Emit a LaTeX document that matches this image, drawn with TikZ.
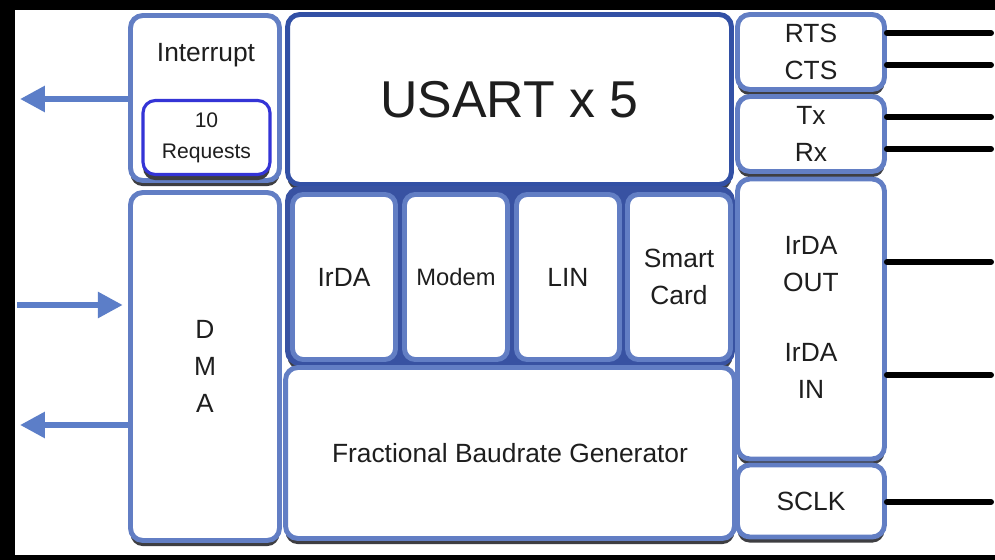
\documentclass[tikz,border=0pt]{standalone}
\usepackage{fontspec}
\setmainfont{Liberation Sans}
\usetikzlibrary{positioning,arrows.meta,shadows}
\definecolor{blkblue}{RGB}{98,126,196}
\definecolor{usartblue}{RGB}{50,80,165}
\definecolor{grpblue}{RGB}{56,82,162}
\definecolor{reqblue}{RGB}{52,52,214}
\definecolor{arrowblue}{RGB}{92,126,200}
\definecolor{shadowgray}{RGB}{62,62,66}
\definecolor{txtgray}{RGB}{30,30,30}
\tikzset{
	blkbase/.style={draw=blkblue, line width=2.8pt, rounded corners=7pt, fill=white, inner sep=0pt,
		text=txtgray, align=center, font=\fontsize{15}{21}\selectfont},
	blk/.style={blkbase, drop shadow={shadow xshift=0pt, shadow yshift=-3.2pt, fill=shadowgray, opacity=1}},
	subblk/.style={blkbase, rounded corners=6pt},
	lbl/.style={text=txtgray, align=center, font=\fontsize{15}{21}\selectfont},
	busarrow/.style={draw=arrowblue, line width=3.4pt, -{Triangle[length=0.5cm, width=0.5cm]}},
	pin/.style={line width=3.4pt, line cap=round},
}
\begin{document}
\begin{tikzpicture}[x=0.02cm, y=-0.02cm]
	\useasboundingbox (0,0) rectangle (995,560);
	\fill[black] (0,0) rectangle (995,560);
	\fill[white] (15,10) rectangle (995,555);

	\node[blk, minimum width=2.98cm, minimum height=3.3cm] (intr) at (205,98) {};
	\node[lbl] (intrtxt) at (206,55) {Interrupt};
	\node[blk, draw=reqblue, line width=1.8pt, minimum width=2.54cm, minimum height=1.48cm,
		font=\fontsize{12}{17.5}\selectfont] (req) at (206.5,137.5) {10\\Requests};
	\node[blk, minimum width=2.98cm, minimum height=6.96cm] (dma) at (205,366.5) {D\\M\\A};

	\node[blk, draw=usartblue, minimum width=8.88cm, minimum height=3.4cm,
		font=\fontsize{29.5}{34}\selectfont] (usart) at (509.5,99.5) {USART x 5};
	\node[blk, draw=grpblue, fill=grpblue, minimum width=8.9cm, minimum height=3.5cm] (grp) at (510,276) {};
	\node[subblk, minimum width=2.06cm, minimum height=3.3cm] (irda) at (344,277) {IrDA};
	\node[subblk, minimum width=2.06cm, minimum height=3.3cm, font=\fontsize{13.5}{21}\selectfont] (modem) at (456,277) {Modem};
	\node[subblk, minimum width=2.06cm, minimum height=3.3cm] (lin) at (568,277) {LIN};
	\node[subblk, minimum width=2.06cm, minimum height=3.3cm] (smart) at (679,277) {Smart\\Card};
	\node[blk, minimum width=8.98cm, minimum height=3.42cm] (fbg) at (510,453) {Fractional Baudrate Generator};

	\node[blk, minimum width=2.94cm, minimum height=1.5cm] (rts) at (811,52) {RTS\\CTS};
	\node[blk, minimum width=2.94cm, minimum height=1.5cm] (txrx) at (811,134) {Tx\\Rx};
	\node[blk, minimum width=2.94cm, minimum height=5.6cm] (irdaio) at (811,319) {};
	\node[lbl] (irdaout) at (811,264) {IrDA\\OUT};
	\node[lbl] (irdain) at (811,371) {IrDA\\IN};
	\node[blk, minimum width=2.94cm, minimum height=1.44cm] (sclk) at (811,501) {SCLK};

	\coordinate (intout) at (20,99);
	\coordinate (dmain) at (17,305);
	\coordinate (dmaout) at (20,425);
	\draw[busarrow] (intout -| intr.west) -- (intout);
	\draw[busarrow, shorten >=3pt] (dmain) -- (dmain -| dma.west);
	\draw[busarrow] (dmaout -| dma.west) -- (dmaout);

	\coordinate (prts) at (991,33);
	\coordinate (pcts) at (991,65);
	\coordinate (ptx) at (991,117);
	\coordinate (prx) at (991,149);
	\coordinate (pirout) at (991,262);
	\coordinate (pirin) at (991,375);
	\coordinate (pclk) at (991,502);
	\draw[pin] (prts -| rts.east) -- (prts);
	\draw[pin] (pcts -| rts.east) -- (pcts);
	\draw[pin] (ptx -| txrx.east) -- (ptx);
	\draw[pin] (prx -| txrx.east) -- (prx);
	\draw[pin] (pirout -| irdaio.east) -- (pirout);
	\draw[pin] (pirin -| irdaio.east) -- (pirin);
	\draw[pin] (pclk -| sclk.east) -- (pclk);
\end{tikzpicture}
\end{document}
